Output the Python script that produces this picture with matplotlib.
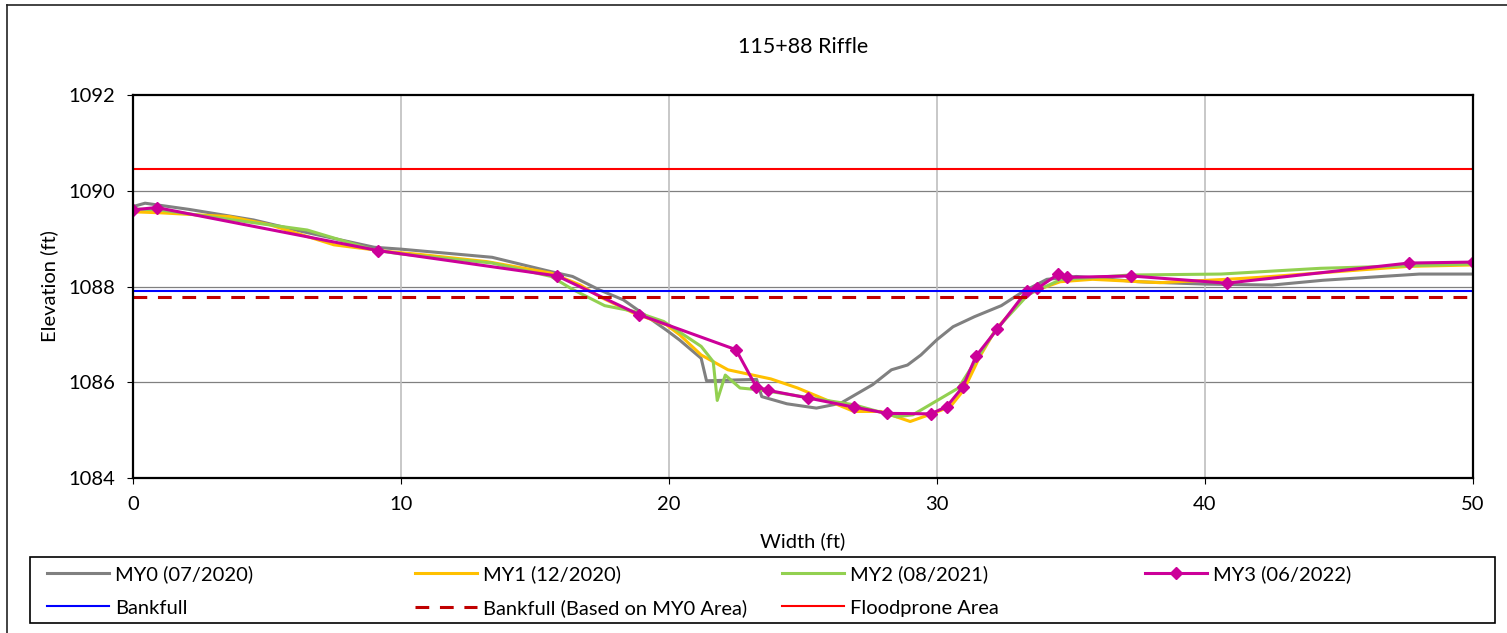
import matplotlib.pyplot as plt
from matplotlib.lines import Line2D
from matplotlib.patches import Rectangle

plt.rcParams["font.family"] = ["Lato", "DejaVu Sans"]

# Survey data (width ft, elevation ft)
my0_x = [0, 0.45, 2.1, 4.5, 6.3, 9.0, 10.0, 13.4, 15.6, 16.4, 17.4, 18.3, 19.9, 20.4,
         21.2, 21.4, 23.27, 23.46, 24.4, 25.5, 26.4, 27.6, 28.3, 28.9, 29.4, 30.0, 30.6,
         31.4, 32.4, 33.2, 34.1, 35.2, 37.5, 40.0, 42.5, 44.4, 48.0, 50.0]
my0_y = [1089.67, 1089.74, 1089.61, 1089.39, 1089.15, 1088.82, 1088.78, 1088.61, 1088.31,
         1088.21, 1087.93, 1087.72, 1087.09, 1086.88, 1086.50, 1086.03, 1086.06, 1085.70,
         1085.55, 1085.46, 1085.56, 1085.95, 1086.26, 1086.36, 1086.57, 1086.89, 1087.16,
         1087.37, 1087.60, 1087.89, 1088.15, 1088.21, 1088.10, 1088.05, 1088.03, 1088.13,
         1088.26, 1088.26]

my1_x = [0, 1.0, 3.6, 5.1, 7.5, 9.5, 10.7, 13.2, 15.6, 16.7, 17.4, 18.7, 19.9, 20.4, 21.2,
         22.2, 23.8, 24.8, 26.9, 27.9, 29.0, 29.7, 30.5, 31.0, 31.6, 32.2, 33.4, 34.6, 35.8,
         38.3, 40.8, 42.0, 47.6, 50.0]
my1_y = [1089.56, 1089.54, 1089.46, 1089.29, 1088.87, 1088.73, 1088.67, 1088.52, 1088.28,
         1088.03, 1087.79, 1087.44, 1087.20, 1086.99, 1086.57, 1086.26, 1086.07, 1085.88,
         1085.39, 1085.39, 1085.18, 1085.32, 1085.49, 1085.84, 1086.54, 1087.11, 1087.86,
         1088.10, 1088.15, 1088.08, 1088.15, 1088.19, 1088.42, 1088.45]

my2_x = [0, 1.0, 6.5, 9.0, 10.0, 13.4, 15.6, 16.4, 17.6, 18.7, 19.8, 21.2, 21.65, 21.8,
         22.1, 22.65, 23.4, 26.9, 28.5, 29.1, 30.8, 31.5, 32.2, 33.4, 34.6, 37.2, 40.6,
         44.3, 50.0]
my2_y = [1089.62, 1089.60, 1089.18, 1088.76, 1088.68, 1088.49, 1088.21, 1087.94, 1087.60,
         1087.48, 1087.27, 1086.75, 1086.43, 1085.62, 1086.15, 1085.88, 1085.84, 1085.53,
         1085.28, 1085.32, 1085.88, 1086.50, 1087.10, 1087.83, 1088.14, 1088.24, 1088.26,
         1088.38, 1088.47]

my3_x = [0, 0.88, 9.15, 15.83, 18.89, 22.50, 23.25, 23.71, 25.20, 26.90, 28.15, 29.77,
         30.36, 30.96, 31.46, 32.25, 33.35, 33.74, 34.53, 34.84, 37.23, 40.81, 47.61, 50.0]
my3_y = [1089.60, 1089.65, 1088.75, 1088.22, 1087.41, 1086.68, 1085.91, 1085.83, 1085.67,
         1085.48, 1085.35, 1085.34, 1085.49, 1085.90, 1086.55, 1087.11, 1087.91, 1087.96,
         1088.26, 1088.19, 1088.22, 1088.07, 1088.49, 1088.51]

bankfull = 1087.90
bankfull_my0 = 1087.78
floodprone = 1090.45
x_range = [0, 50]

fs = 14.5

fig = plt.figure(figsize=(15.07, 6.33), dpi=100)
ax = fig.add_axes([133 / 1507, 1 - 478 / 633, 1340 / 1507, 383 / 633])

l0, = ax.plot(my0_x, my0_y, color="#808080", lw=2.2, label="MY0 (07/2020)")
l1, = ax.plot(my1_x, my1_y, color="#FFC000", lw=2.2, label="MY1 (12/2020)")
l2, = ax.plot(my2_x, my2_y, color="#92D050", lw=2.2, label="MY2 (08/2021)")
l3, = ax.plot(my3_x, my3_y, color="#CC0099", lw=2.2, marker="D", ms=6.5,
              label="MY3 (06/2022)")
lb, = ax.plot(x_range, [bankfull] * 2, color="#0000FF", lw=1.5, label="Bankfull")
ld, = ax.plot(x_range, [bankfull_my0] * 2, color="#C00000", lw=2.2, ls=(0, (4.5, 3.5)),
              label="Bankfull (Based on MY0 Area)")
lf, = ax.plot(x_range, [floodprone] * 2, color="#FF0000", lw=1.5, label="Floodprone Area")

ax.set_xlim(0, 50)
ax.set_ylim(1084, 1092)
ax.set_xticks(range(0, 51, 10))
ax.set_yticks(range(1084, 1093, 2))
ax.tick_params(labelsize=fs, length=4, pad=9)
for s in ax.spines.values():
    s.set_linewidth(1.6)

# grid: horizontal darker, vertical lighter
for yv in [1086, 1088, 1090]:
    ax.axhline(yv, color="#808080", lw=0.9, zorder=0)
for xv in [10, 20, 30, 40]:
    ax.axvline(xv, color="#BFBFBF", lw=1.2, zorder=0)

ax.set_xlabel("Width (ft)", fontsize=fs, labelpad=14)
ax.set_ylabel("Elevation (ft)", fontsize=fs, labelpad=7)
fig.text(803 / 1507, 1 - 47 / 633, "115+88 Riffle", ha="center", va="center", fontsize=15.5)

# outer frame (left and top edges visible)
fig.add_artist(Line2D([7 / 1507, 7 / 1507], [0, 1 - 5 / 633], color="#222222", lw=1.2))
fig.add_artist(Line2D([7 / 1507, 1], [1 - 5 / 633, 1 - 5 / 633], color="#222222", lw=1.2))

# legend box with four equally spaced columns
fig.add_artist(Rectangle((30 / 1507, 1 - 623 / 633), 1465 / 1507, 66 / 633,
                         transform=fig.transFigure, fill=False, ec="black", lw=1.2))
cols = [[l0, lb], [l1, ld], [l2, lf], [l3]]
col_x = [47, 415, 782, 1145]
for hs, cx in zip(cols, col_x):
    fig.legend(hs, [h.get_label() for h in hs], loc="upper left",
               bbox_to_anchor=(cx / 1507, 1 - 565 / 633), frameon=False,
               fontsize=fs, handlelength=3.1, handletextpad=0.3,
               borderpad=0, borderaxespad=0, labelspacing=0.82)

fig.savefig("out.png", dpi=100)
